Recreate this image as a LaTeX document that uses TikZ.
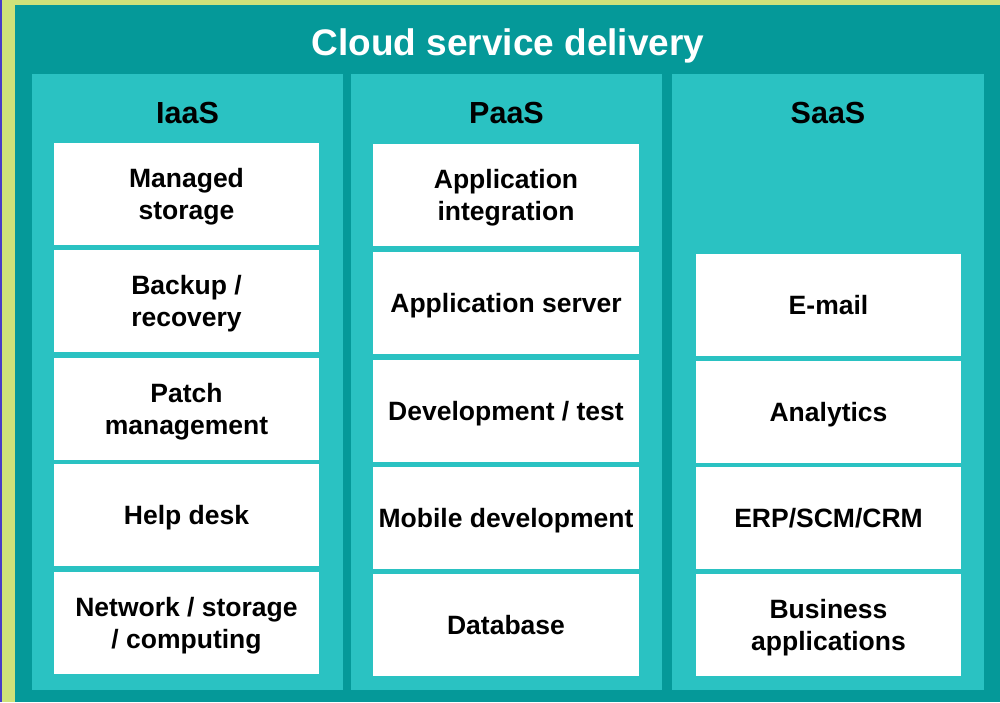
\documentclass[tikz,border=0pt]{standalone}
\usepackage{fontspec}
\setmainfont{Liberation Sans}
\usetikzlibrary{positioning}
\definecolor{tealdark}{RGB}{5,153,153}
\definecolor{teallight}{RGB}{42,194,194}
\definecolor{limeedge}{RGB}{206,226,122}
\definecolor{edgeblue}{RGB}{70,60,200}

\begin{document}
\begin{tikzpicture}[x=1pt,y=-1pt,
col/.style={rectangle,fill=teallight,minimum width=311pt,minimum height=616pt,inner sep=0pt},
svc/.style={rectangle,fill=white,minimum width=265pt,minimum height=102pt,inner sep=0pt,text depth=0pt,align=center,font=\fontsize{26.5}{32}\selectfont\bfseries},
coltitle/.style={font=\fontsize{30.5}{34}\selectfont\bfseries,inner sep=0pt,anchor=base}]
	\useasboundingbox (0,0) rectangle (1000,702);
	%frame
	\fill[limeedge] (0,0) rectangle (1000,702);
	\fill[edgeblue] (0,0) rectangle (1.5,702);
	\fill[tealdark] (15,5) rectangle (1000,702);
	\node[anchor=base,inner sep=0pt,white,font=\fontsize{37}{40}\selectfont\bfseries] at (508,55) (title) {Cloud service delivery};

	%columns
	\node[col] at (187.5,382) (iaas) {};
	\node[col] at (506.5,382) (paas) {};
	\node[col,minimum width=312pt] at (828,382) (saas) {};
	\node[coltitle] at (187.5,123) (iaaslab) {IaaS};
	\node[coltitle] at (506.5,123) (paaslab) {PaaS};
	\node[coltitle] at (828,123) (saaslab) {SaaS};

	%IaaS services
	\node[svc] at (186.5,194) (stor) {Managed\\storage};
	\node[svc] at (186.5,301) (back) {Backup /\\recovery};
	\node[svc] at (186.5,408.5) (patch) {Patch\\management};
	\node[svc] at (186.5,515) (help) {Help desk};
	\node[svc] at (186.5,623) (net) {Network / storage\\/ computing};

	%PaaS services
	\node[svc,minimum width=266pt] at (506,195) (integ) {Application\\integration};
	\node[svc,minimum width=266pt] at (506,303) (appsrv) {Application server};
	\node[svc,minimum width=266pt] at (506,411) (dev) {Development / test};
	\node[svc,minimum width=266pt] at (506,518) (mob) {Mobile development};
	\node[svc,minimum width=266pt] at (506,625) (db) {Database};

	%SaaS services
	\node[svc] at (828.5,305) (mail) {E-mail};
	\node[svc] at (828.5,412) (anal) {Analytics};
	\node[svc] at (828.5,518) (erp) {ERP/SCM/CRM};
	\node[svc] at (828.5,625) (bus) {Business\\applications};
\end{tikzpicture}
\end{document}
